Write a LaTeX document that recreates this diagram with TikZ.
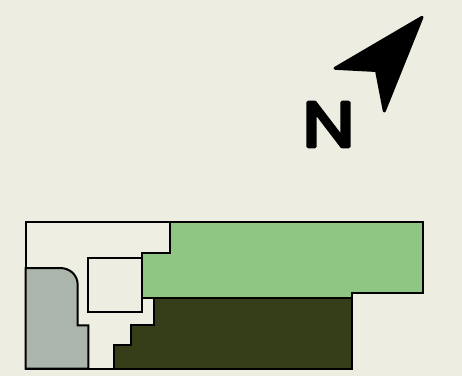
\documentclass[tikz,border=0pt]{standalone}
\usepackage{fontspec}
\newfontfamily\northfont[FakeBold=4.6]{Poppins}
\definecolor{pagebg}{HTML}{EDEDE2}
\definecolor{lawn}{HTML}{90C684}
\definecolor{hedge}{HTML}{353E18}
\definecolor{stone}{HTML}{ACB5AB}
\definecolor{paving}{HTML}{EEEEE3}
\tikzset{plot part/.style={draw=black,line width=2pt,line join=miter}}
\begin{document}
\begin{tikzpicture}[x=1pt,y=-1pt]
\useasboundingbox (0,0) rectangle (462,376);
\fill[pagebg] (0,0) rectangle (462,376);
% paving outline
\draw[plot part,fill=paving] (25.5,221.8) -- (170,221.8) -- (170,253.3) -- (142,253.3) -- (142,298.3) -- (154.3,298.3) -- (154.3,325) -- (130.7,325) -- (130.7,345) -- (113.7,345) -- (113.7,368.7) -- (25.5,368.7) -- cycle;
% stone
\draw[plot part,fill=stone] (25.5,268) -- (60,268) .. controls (70,268) and (77.7,275) .. (77.7,285) -- (77.7,325.3) -- (88.3,325.3) -- (88.3,368.7) -- (25.5,368.7) -- cycle;
% inner square
\draw[plot part,fill=pagebg] (88.3,258.3) rectangle (142,311.7);
% lawn
\draw[plot part,fill=lawn] (170,221.8) -- (423.3,221.8) -- (423.3,293.3) -- (351.5,293.3) -- (351.5,298.3) -- (142,298.3) -- (142,253.3) -- (170,253.3) -- cycle;
% hedge
\draw[plot part,fill=hedge] (154.3,298.3) -- (351.5,298.3) -- (351.5,368.7) -- (113.7,368.7) -- (113.7,345) -- (130.7,345) -- (130.7,325) -- (154.3,325) -- cycle;
% north arrow
\fill[black,draw=black,line width=3pt,line join=round] (422,17.3) -- (335,68.3) -- (376.5,70.5) -- (384.3,111) -- cycle;
\begin{scope}[line join=round,line cap=round]
\node[inner sep=0pt,anchor=center,text=black,xscale=1.16,transform shape] (north) at (328.5,124.5) {\fontsize{64}{64}\selectfont\northfont N};
\end{scope}
\end{tikzpicture}
\end{document}
